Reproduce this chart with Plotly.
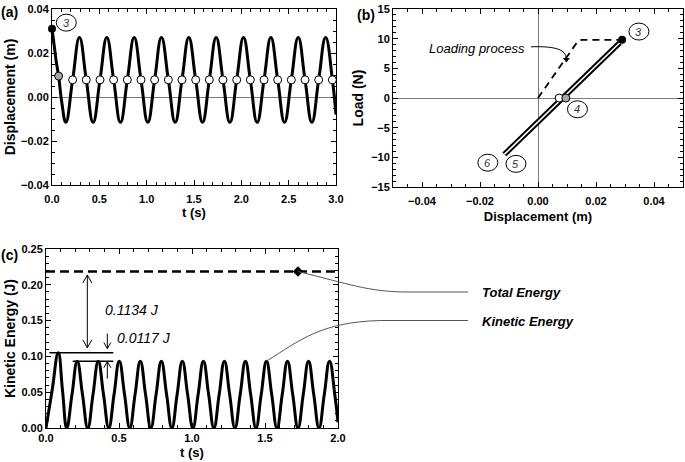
import plotly.graph_objects as go

# ---------------- panel (a): displacement vs time ----------------
disp_t = [0.000, 0.020, 0.045, 0.070, 0.105, 0.146,
          0.218, 0.290, 0.362, 0.434,
          0.507, 0.579, 0.651, 0.723,
          0.796, 0.868, 0.940, 1.012,
          1.084, 1.156, 1.229, 1.301,
          1.373, 1.445, 1.518, 1.590,
          1.662, 1.734, 1.806, 1.879,
          1.951, 2.023, 2.095, 2.167,
          2.240, 2.312, 2.384, 2.456,
          2.528, 2.601, 2.673, 2.745,
          2.817, 2.890, 2.962, 3.000]
disp_m = [0.0310, 0.0245, 0.0160, 0.0095, -0.0030, -0.0115,
          0.0078, 0.0270, 0.0078, -0.0115,
          0.0078, 0.0270, 0.0078, -0.0115,
          0.0078, 0.0270, 0.0078, -0.0115,
          0.0078, 0.0270, 0.0078, -0.0115,
          0.0078, 0.0270, 0.0078, -0.0115,
          0.0078, 0.0270, 0.0078, -0.0115,
          0.0078, 0.0270, 0.0078, -0.0115,
          0.0078, 0.0270, 0.0078, -0.0115,
          0.0078, 0.0270, 0.0078, -0.0115,
          0.0078, 0.0270, 0.0078, -0.0080]
zero_load_t = [0.218, 0.362, 0.507, 0.651, 0.796, 0.940, 1.084, 1.229, 1.373, 1.518,
               1.662, 1.806, 1.951, 2.095, 2.240, 2.384, 2.528, 2.673, 2.817, 2.962]
zero_load_disp = [0.0078] * 20
release_t, release_disp = [0.0], [0.031]
first_zero_t, first_zero_disp = [0.070], [0.0095]

# ---------------- panel (b): load vs displacement ----------------
loading_disp = [0.0, 0.0136, 0.0150, 0.0290]
loading_load = [0.0, 9.48, 9.78, 9.80]
cycle_disp = [0.0282, -0.0116]
cycle_load = [9.3, -9.5]
peak_disp, peak_load = [0.0290], [9.80]
zl_white_disp, zl_white_load = [0.0073], [0.0]
zl_gray_disp, zl_gray_load = [0.0096], [0.0]

# ---------------- panel (c): kinetic energy vs time ----------------
ke_t = [0.000, 0.042, 0.084, 0.113, 0.142,
        0.178, 0.214, 0.250, 0.286,
        0.322, 0.358, 0.394, 0.430,
        0.466, 0.502, 0.538, 0.574,
        0.610, 0.646, 0.682, 0.718,
        0.754, 0.790, 0.826, 0.862,
        0.898, 0.934, 0.970, 1.006,
        1.042, 1.078, 1.114, 1.150,
        1.186, 1.222, 1.258, 1.294,
        1.330, 1.366, 1.402, 1.438,
        1.474, 1.510, 1.546, 1.582,
        1.618, 1.654, 1.690, 1.726,
        1.762, 1.798, 1.834, 1.870,
        1.906, 1.942, 1.978, 2.000]
ke_J = [0.0, 0.0526, 0.1051, 0.0526, 0.0,
        0.0467, 0.0934, 0.0467, 0.0,
        0.0467, 0.0934, 0.0467, 0.0,
        0.0467, 0.0934, 0.0467, 0.0,
        0.0467, 0.0934, 0.0467, 0.0,
        0.0467, 0.0934, 0.0467, 0.0,
        0.0467, 0.0934, 0.0467, 0.0,
        0.0467, 0.0934, 0.0467, 0.0,
        0.0467, 0.0934, 0.0467, 0.0,
        0.0467, 0.0934, 0.0467, 0.0,
        0.0467, 0.0934, 0.0467, 0.0,
        0.0467, 0.0934, 0.0467, 0.0,
        0.0467, 0.0934, 0.0467, 0.0,
        0.0467, 0.0934, 0.0467, 0.0080]
total_t = [0.0, 2.0]
total_J = [0.2185, 0.2185]
ke_first_peak = 0.1051
ke_steady_peak = 0.0934
ke_marked_peak_t = 1.510
total_marker_t = 1.726

# ---------------- layout geometry (pixels) ----------------
W, H = 685, 462
A_X, A_Y = (52, 336), (9, 185)
B_X, B_Y = (393, 683), (9, 187)
C_X, C_Y = (46, 338), (249, 428)
C_XR, C_YR = (0.0, 2.0), (0.0, 0.25)


def fx(p):
    return p / W


def fy(p):
    return 1 - p / H


def c_px(t):
    return C_X[0] + (t - C_XR[0]) / (C_XR[1] - C_XR[0]) * (C_X[1] - C_X[0])


def c_py(e):
    return C_Y[1] - (e - C_YR[0]) / (C_YR[1] - C_YR[0]) * (C_Y[1] - C_Y[0])


FONT = "Arial, 'Liberation Sans', Helvetica, sans-serif"
TICKFONT = dict(family=FONT, size=11, color="black", weight="bold")
TITLEFONT = dict(family=FONT, size=13, color="black", weight="bold")


def axis(domain, rng, dtick, minor_dtick, fmt, title, standoff, anchor, zeroline=False, rot_title=False,
         label_standoff=0):
    return dict(
        domain=domain, range=rng, dtick=dtick, tick0=0, tickformat=fmt, anchor=anchor,
        showline=True, linecolor="black", linewidth=1, mirror="ticks",
        ticks="inside", ticklen=5, tickwidth=1, tickcolor="black",
        minor=dict(ticks="inside", ticklen=3, dtick=minor_dtick, tick0=0,
                   tickcolor="black", tickwidth=1, showgrid=False),
        showgrid=False, zeroline=zeroline, zerolinecolor="#7a7a7a", zerolinewidth=1,
        tickfont=TICKFONT, automargin=False, ticklabelstandoff=label_standoff,
        title=dict(text=title, font=dict(TITLEFONT, size=14 if rot_title else 13), standoff=standoff),
    )


fig = go.Figure()

# panel (a)
fig.add_trace(go.Scatter(x=disp_t, y=disp_m, mode="lines", line=dict(color="black", width=3, shape="spline", smoothing=1.3),
                         xaxis="x", yaxis="y"))
fig.add_trace(go.Scatter(x=zero_load_t, y=zero_load_disp, mode="markers",
                         marker=dict(size=8, color="white", line=dict(color="black", width=1)), xaxis="x", yaxis="y"))
fig.add_trace(go.Scatter(x=first_zero_t, y=first_zero_disp, mode="markers",
                         marker=dict(size=8, color="#a8a8a8", line=dict(color="black", width=1)), xaxis="x", yaxis="y"))
fig.add_trace(go.Scatter(x=release_t, y=release_disp, mode="markers",
                         marker=dict(size=8, color="black"), xaxis="x", yaxis="y", cliponaxis=False))

# panel (b)
fig.add_trace(go.Scatter(x=loading_disp, y=loading_load, mode="lines",
                         line=dict(color="black", width=1.8, dash="7px,5px"), xaxis="x2", yaxis="y2"))
fig.add_trace(go.Scatter(x=cycle_disp, y=cycle_load, mode="lines", line=dict(color="black", width=5.5),
                         xaxis="x2", yaxis="y2"))
fig.add_trace(go.Scatter(x=cycle_disp, y=cycle_load, mode="lines", line=dict(color="white", width=1.5),
                         xaxis="x2", yaxis="y2"))
fig.add_trace(go.Scatter(x=peak_disp, y=peak_load, mode="markers", marker=dict(size=8, color="black"),
                         xaxis="x2", yaxis="y2"))
fig.add_trace(go.Scatter(x=zl_white_disp, y=zl_white_load, mode="markers",
                         marker=dict(size=8, color="white", line=dict(color="black", width=1)), xaxis="x2", yaxis="y2"))
fig.add_trace(go.Scatter(x=zl_gray_disp, y=zl_gray_load, mode="markers",
                         marker=dict(size=8, color="#a8a8a8", line=dict(color="black", width=1)), xaxis="x2", yaxis="y2"))
fig.add_trace(go.Scatter(x=[0.0098], y=[6.5], mode="markers",
                         marker=dict(size=6, color="black", symbol="triangle-down"), xaxis="x2", yaxis="y2"))

# panel (c)
fig.add_trace(go.Scatter(x=ke_t, y=ke_J, mode="lines", line=dict(color="black", width=3, shape="spline", smoothing=1.3),
                         xaxis="x3", yaxis="y3"))
fig.add_trace(go.Scatter(x=total_t, y=total_J, mode="lines", line=dict(color="black", width=2.5, dash="9px,5px"),
                         xaxis="x3", yaxis="y3"))
fig.add_trace(go.Scatter(x=[total_marker_t], y=[total_J[0]], mode="markers",
                         marker=dict(size=8, color="black", symbol="diamond"), xaxis="x3", yaxis="y3"))

shapes = []
annotations = []


def label_circle(xref, yref, x, y, txt):
    shapes.append(dict(type="circle", xref=xref, yref=yref, xsizemode="pixel", ysizemode="pixel",
                       xanchor=x, yanchor=y, x0=-10, x1=10, y0=-8.5, y1=8.5,
                       line=dict(color="black", width=1), fillcolor="white", layer="above"))
    annotations.append(dict(xref=xref, yref=yref, x=x, y=y, text="<i>%s</i>" % txt, showarrow=False,
                            font=dict(family=FONT, size=11, color="#333333"), xanchor="center", yanchor="middle"))


label_circle("x", "y", 0.151, 0.0338, "3")
label_circle("x2", "y2", 0.0348, 11.2, "3")
label_circle("x2", "y2", 0.0136, -1.9, "4")
label_circle("x2", "y2", -0.0076, -11.1, "5")
label_circle("x2", "y2", -0.0173, -10.9, "6")

# loading process curved pointer
shapes.append(dict(type="path", xref="x2", yref="y2",
                   path="M -0.0024,8.63 C 0.0050,8.75 0.0092,8.3 0.0097,6.9",
                   line=dict(color="black", width=1)))
annotations.append(dict(xref="x2", yref="y2", x=-0.0209, y=8.4, text="<i>Loading process</i>", showarrow=False,
                        font=dict(family=FONT, size=13, color="black"), xanchor="center", yanchor="middle"))

# energy level lines in (c)
shapes.append(dict(type="line", xref="x3", yref="y3", x0=0.023, x1=0.461, y0=ke_first_peak, y1=ke_first_peak,
                   line=dict(color="black", width=1.5)))
shapes.append(dict(type="line", xref="x3", yref="y3", x0=0.183, x1=0.461, y0=ke_steady_peak, y1=ke_steady_peak,
                   line=dict(color="black", width=1.5)))


def varrow(x, y_from, y_to, head_w, head_l, double=False):
    shapes.append(dict(type="line", xref="x3", yref="y3", x0=x, x1=x, y0=y_from, y1=y_to,
                       line=dict(color="black", width=1)))
    ends = [(y_to, 1 if y_to > y_from else -1)]
    if double:
        ends.append((y_from, 1 if y_from > y_to else -1))
    for yt, sgn in ends:
        shapes.append(dict(type="path", xref="x3", yref="y3", xsizemode="pixel", ysizemode="pixel",
                           xanchor=x, yanchor=yt,
                           path="M %g,%g L 0,0 L %g,%g" % (-head_w, -sgn * head_l, head_w, -sgn * head_l),
                           line=dict(color="black", width=1)))


varrow(0.283, 0.112, 0.2137, 4.5, 8, double=True)
varrow(0.420, 0.132, 0.111, 3.5, 6)
varrow(0.420, 0.069, 0.0926, 3.5, 6)

annotations.append(dict(xref="x3", yref="y3", x=0.39, y=0.165, text="<i>0.1134 J</i>", showarrow=False,
                        font=dict(family=FONT, size=14, color="black"), xanchor="left", yanchor="middle"))
annotations.append(dict(xref="x3", yref="y3", x=0.473, y=0.1257, text="<i>0.0117 J</i>", showarrow=False,
                        font=dict(family=FONT, size=14, color="black"), xanchor="left", yanchor="middle"))

# connectors to side labels (paper coords)
sx, sy = c_px(total_marker_t), c_py(total_J[0])
shapes.append(dict(type="path", xref="paper", yref="paper",
                   path="M %f,%f C %f,%f %f,%f %f,%f L %f,%f" % (
                       fx(sx), fy(sy), fx(sx + 50), fy(sy + 12), fx(sx + 70), fy(292), fx(sx + 110), fy(292),
                       fx(468), fy(292)),
                   line=dict(color="#555555", width=1)))
kx, ky = c_px(ke_marked_peak_t), c_py(ke_steady_peak)
shapes.append(dict(type="path", xref="paper", yref="paper",
                   path="M %f,%f C %f,%f %f,%f %f,%f L %f,%f" % (
                       fx(kx), fy(ky), fx(kx + 34), fy(ky - 21), fx(kx + 54), fy(ky - 39), fx(kx + 114),
                       fy(320.5), fx(468), fy(320.5)),
                   line=dict(color="#555555", width=1)))
annotations.append(dict(xref="paper", yref="paper", x=fx(480), y=fy(292), text="<b><i>Total Energy</i></b>",
                        showarrow=False, font=dict(family=FONT, size=13, color="black"),
                        xanchor="left", yanchor="middle"))
annotations.append(dict(xref="paper", yref="paper", x=fx(480), y=fy(321), text="<b><i>Kinetic Energy</i></b>",
                        showarrow=False, font=dict(family=FONT, size=13, color="black"),
                        xanchor="left", yanchor="middle"))

# panel letters
for txt, x, y in [("(a)", 9, 12), ("(b)", 366, 15), ("(c)", 9, 255)]:
    annotations.append(dict(xref="paper", yref="paper", x=fx(x), y=fy(y), text="<b>%s</b>" % txt,
                            showarrow=False, font=dict(family=FONT, size=14, color="black"),
                            xanchor="center", yanchor="middle"))

fig.update_layout(
    width=W, height=H, margin=dict(l=0, r=0, t=0, b=0),
    paper_bgcolor="white", plot_bgcolor="white", showlegend=False,
    xaxis=axis([fx(A_X[0]), fx(A_X[1])], [0, 3], 0.5, 0.1, ".1f", "t (s)", 2, "y", label_standoff=4),
    yaxis=axis([fy(A_Y[1]), fy(A_Y[0])], [-0.04, 0.04], 0.02, 0.005, ".2f", "Displacement (m)", 2, "x",
               zeroline=True, rot_title=True),
    xaxis2=axis([fx(B_X[0]), fx(B_X[1])], [-0.05, 0.05], 0.02, 0.005, ".2f", "Displacement (m)", 5, "y2",
                zeroline=True, label_standoff=4),
    yaxis2=axis([fy(B_Y[1]), fy(B_Y[0])], [-15, 15], 5, 1, "d", "Load (N)", 4, "x2", zeroline=True, rot_title=True),
    xaxis3=axis([fx(C_X[0]), fx(C_X[1])], [0, 2], 0.5, 0.1, ".1f", "t (s)", 4, "y3"),
    yaxis3=axis([fy(C_Y[1]), fy(C_Y[0])], [0, 0.25], 0.05, 0.01, ".2f", "Kinetic Energy (J)", 2, "x3",
                rot_title=True),
    shapes=shapes, annotations=annotations,
)
fig.update_layout(xaxis2=dict(tickvals=[-0.04, -0.02, 0.0, 0.02, 0.04]))

# remove the default 8px page margin so the 685x462 figure fills the window exactly
fig.write_html("out.html", config={"displayModeBar": False},
               post_script="document.body.style.margin='0';document.body.style.overflow='hidden';")
